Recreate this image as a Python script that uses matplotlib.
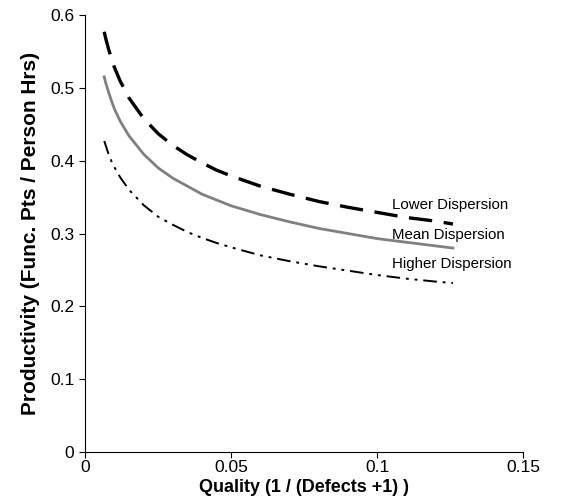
import numpy as np
import matplotlib
matplotlib.use("Agg")
import matplotlib.pyplot as plt

plt.rcParams['font.family'] = ['Liberation Sans', 'DejaVu Sans']

# values
quality = [0.0065, 0.007, 0.008, 0.009, 0.01, 0.012, 0.015, 0.02, 0.025,
           0.03, 0.035, 0.04, 0.045, 0.05, 0.06, 0.07, 0.08, 0.09, 0.1,
           0.11, 0.12, 0.126]
lower = [0.577, 0.568, 0.553, 0.540, 0.528, 0.509, 0.486, 0.458, 0.437,
         0.421, 0.408, 0.397, 0.387, 0.379, 0.365, 0.354, 0.344, 0.336,
         0.329, 0.322, 0.317, 0.313]
mean = [0.515, 0.507, 0.494, 0.482, 0.471, 0.454, 0.434, 0.409, 0.390,
        0.376, 0.365, 0.354, 0.346, 0.338, 0.326, 0.316, 0.307, 0.300,
        0.293, 0.288, 0.283, 0.280]
higher = [0.427, 0.421, 0.409, 0.399, 0.391, 0.377, 0.360, 0.339, 0.323,
          0.312, 0.302, 0.294, 0.287, 0.281, 0.270, 0.262, 0.255, 0.249,
          0.243, 0.238, 0.234, 0.232]
labels = ['Lower Dispersion', 'Mean Dispersion', 'Higher Dispersion']
label_x = 0.105
label_y = [0.339, 0.298, 0.258]

fig = plt.figure(figsize=(5.76, 5.0), dpi=100)
ax = fig.add_axes([0.148, 0.096, 0.76, 0.874])

ax.plot(quality, lower, color='black', lw=2.4, dashes=(7, 3.5))
ax.plot(quality, mean, color='#808080', lw=2)
ax.plot(quality, higher, color='black', lw=1.4, dashes=(7, 3, 1.5, 3, 1.5, 3))

for lab, ly in zip(labels, label_y):
    ax.text(label_x, ly, lab, fontsize=10.8, va='center', ha='left')

ax.set_xlim(0, 0.15)
ax.set_ylim(0, 0.6)
ax.set_xticks([0, 0.05, 0.1, 0.15])
ax.set_xticklabels(['0', '0.05', '0.1', '0.15'])
ax.set_yticks(np.arange(0, 0.61, 0.1))
ax.set_yticklabels(['0', '0.1', '0.2', '0.3', '0.4', '0.5', '0.6'])
ax.tick_params(labelsize=12.5, length=4, width=0.8, direction='out')
ax.tick_params(axis='x', pad=2)
ax.tick_params(axis='y', pad=4)
ax.spines['top'].set_visible(False)
ax.spines['right'].set_visible(False)
ax.spines['left'].set_linewidth(0.8)
ax.spines['bottom'].set_linewidth(0.8)

ax.set_xlabel('Quality (1 / (Defects +1) )', fontsize=13, fontweight='bold', labelpad=3)
ax.set_ylabel('Productivity (Func. Pts / Person Hrs)', fontsize=15, fontweight='bold', labelpad=7)

fig.savefig('out.png', dpi=100)
